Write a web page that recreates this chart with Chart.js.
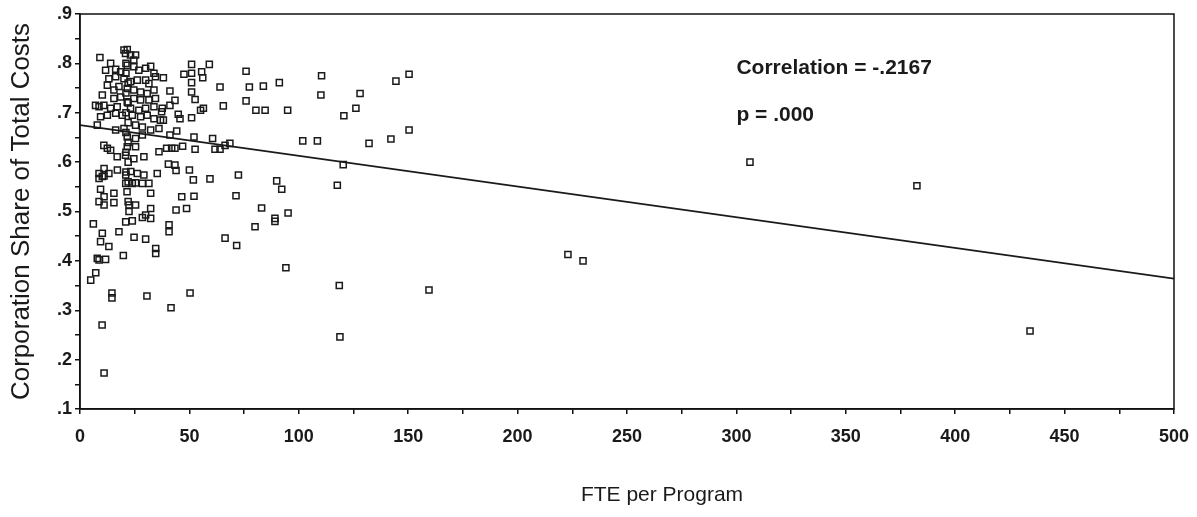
<!DOCTYPE html>
<html lang="en">
<head>
  <meta charset="UTF-8">
  <title>Corporation Share of Total Costs vs FTE per Program</title>
  <style>
    body { margin: 0; background: #fff; }
    .chart-container { width: 1197px; height: 517px; }
  </style>
  <script src="https://cdn.jsdelivr.net/npm/chart.js"></script>
</head>
<body>
  <div class="chart-container">
    <canvas id="scatterChart"></canvas>
  </div>

  <script>
    // FTE per program (x) and corporation share of total costs (y)
    const ftePerProgram = [
      9.1, 20.1, 21.6, 20.8, 23.1, 25.4, 24.6, 11.7, 14.0, 16.3, 18.6, 21.6, 24.6, 26.9, 30.0, 32.3, 33.8,
      13.2, 16.3, 20.1, 23.1, 26.2, 30.0, 31.5, 34.5, 12.5, 15.5, 17.8, 21.6, 24.6, 27.7, 30.7, 33.8,
      10.2, 15.5, 18.6, 21.6, 24.6, 27.7, 31.5, 34.5, 7.1, 8.7, 10.9, 14.0, 17.0, 23.1, 26.9, 30.0, 33.8, 37.6,
      9.4, 12.5, 16.3, 19.3, 23.9, 27.7, 30.7, 33.8, 36.8, 7.9, 16.3, 20.1, 25.4, 28.5, 32.3, 36.1,
      21.6, 25.4, 28.5, 10.9, 12.5, 14.0, 21.6, 25.4, 36.1, 17.0, 20.8, 24.6, 29.2,
      21, 21, 22, 21, 22, 21, 22, 21, 22, 21, 22, 21, 22, 21.5, 22,
      11.0, 8.7, 10.2, 13.2, 17.1, 20.9, 23.2, 26.2, 29.2, 35.3, 8.7, 11.0, 20.9, 23.9, 25.4, 28.5, 31.5,
      9.4, 15.5, 32.3, 11.0, 8.7, 11.0, 15.5, 22.4, 25.4, 22.4, 32.3, 30.0, 28.5, 32.3, 20.9, 23.9, 6.1,
      17.8, 10.2, 9.4, 13.2, 24.7, 30.0, 34.6, 34.6, 7.9, 8.7, 11.7, 19.8, 7.2, 4.9,
      14.6, 14.6, 30.6, 50.3, 41.6, 10.1, 11.0,
      51.0, 59.1, 38.1, 47.5, 51.0, 55.6, 56.1, 75.9, 64.0, 77.4, 41.1, 51.0, 52.6, 43.4, 41.1, 75.9, 65.5,
      56.4, 55.1, 44.9, 45.7, 51.0, 37.3, 38.1, 44.2, 41.1, 52.1, 60.6, 68.5, 66.3, 64.0, 61.7, 39.6, 41.9,
      43.4, 46.9, 52.6, 51.0,
      40.4, 43.4, 43.9, 50.0, 51.8, 59.4, 72.4, 46.5, 52.1, 71.3, 43.9, 48.7, 40.7, 40.7, 80.0, 66.3, 71.6,
      83.8, 91.1, 110.4, 110.1, 128.0, 126.1, 120.6, 80.4, 84.6, 94.9, 101.8, 108.5, 132.1, 120.3, 89.9, 92.2, 117.6,
      89.1, 89.1, 95.1, 83.0, 94.1, 118.5, 118.8,
      150.4, 144.4, 150.4, 142.1, 159.5, 223, 229.9, 306.2, 382.5, 434.2
    ];
    const corpShare = [
      .812, .827, .828, .820, .817, .817, .807, .786, .800, .788, .783, .796, .793, .786, .790, .794, .780,
      .769, .773, .769, .763, .766, .766, .759, .773, .756, .746, .753, .749, .746, .742, .739, .746,
      .736, .729, .732, .722, .729, .726, .726, .729, .715, .712, .715, .709, .712, .709, .705, .709, .712, .709,
      .692, .695, .699, .695, .695, .692, .695, .688, .685, .675, .665, .668, .675, .671, .665, .668,
      .651, .648, .655, .634, .628, .624, .631, .631, .621, .611, .614, .607, .611,
      .80, .78, .76, .74, .72, .70, .68, .66, .64, .62, .60, .58, .56, .54, .52,
      .587, .577, .571, .577, .584, .574, .581, .577, .574, .577, .567, .572, .557, .557, .558, .557, .557,
      .545, .537, .537, .530, .520, .513, .518, .513, .513, .500, .506, .493, .488, .486, .479, .481, .475,
      .459, .456, .439, .429, .448, .444, .425, .415, .405, .402, .403, .411, .376, .361,
      .335, .325, .329, .335, .305, .270, .173,
      .798, .798, .771, .778, .780, .783, .771, .784, .752, .752, .744, .742, .727, .725, .715, .724, .714,
      .709, .705, .697, .688, .690, .702, .685, .663, .655, .651, .648, .638, .634, .626, .626, .628, .628,
      .628, .632, .626, .761,
      .596, .594, .583, .584, .564, .566, .574, .530, .531, .532, .503, .506, .473, .459, .469, .446, .431,
      .754, .761, .775, .736, .739, .709, .694, .705, .705, .705, .643, .643, .638, .595, .562, .545, .553,
      .480, .486, .497, .507, .386, .350, .246,
      .778, .764, .665, .647, .341, .413, .400, .600, .552, .258
    ];

    // Fitted line end points
    const fitX = [0, 500];
    const fitY = [0.675, 0.364];

    const annotations = ['Correlation = -.2167', 'p = .000'];
    const xTitle = 'FTE per Program';

    const points = ftePerProgram.map((x, i) => ({ x: x, y: corpShare[i] }));
    const fitLine = fitX.map((x, i) => ({ x: x, y: fitY[i] }));

    const font = "'Liberation Sans', Arial, sans-serif";

    // Box around the plot area, the correlation text and the x title
    const framePlugin = {
      id: 'frame',
      afterDraw(chart) {
        const { ctx, chartArea, scales } = chart;
        ctx.save();
        ctx.strokeStyle = '#111';
        ctx.lineWidth = 1.5;
        ctx.strokeRect(chartArea.left, chartArea.top, chartArea.right - chartArea.left, chartArea.bottom - chartArea.top);
        ctx.fillStyle = '#1a1a1a';
        ctx.font = 'bold 21px ' + font;
        ctx.textBaseline = 'middle';
        ctx.fillText(annotations[0], scales.x.getPixelForValue(300), scales.y.getPixelForValue(0.790));
        ctx.fillText(annotations[1], scales.x.getPixelForValue(300), scales.y.getPixelForValue(0.695));
        // x axis title sits a little right of centre in the original
        ctx.font = '21px ' + font;
        ctx.textAlign = 'center';
        ctx.fillText(xTitle, scales.x.getPixelForValue(266), 495);
        ctx.restore();
      }
    };

    const ctx = document.getElementById('scatterChart').getContext('2d');
    new Chart(ctx, {
      type: 'scatter',
      data: {
        datasets: [
          {
            data: points,
            pointStyle: 'rect',
            pointRadius: 4.3,
            pointBorderWidth: 1.5,
            pointBorderColor: '#1a1a1a',
            pointBackgroundColor: 'rgba(255,255,255,0)',
            pointHoverRadius: 4.3
          },
          {
            data: fitLine,
            showLine: true,
            borderColor: '#1a1a1a',
            borderWidth: 1.6,
            pointRadius: 0,
            pointHoverRadius: 0
          }
        ]
      },
      options: {
        responsive: true,
        maintainAspectRatio: false,
        animation: false,
        layout: { padding: { top: 14, right: 23, bottom: 0, left: 0 } },
        plugins: {
          legend: { display: false },
          tooltip: { enabled: false }
        },
        scales: {
          x: {
            type: 'linear',
            min: 0,
            max: 500,
            afterFit(scale) {
              scale.height = 108;
              scale.paddingLeft = 0;
              scale.paddingRight = 0;
            },
            border: { color: '#111', width: 1.5 },
            grid: { drawOnChartArea: false, drawTicks: true, tickLength: 5, color: '#111', lineWidth: 1.5 },
            ticks: {
              stepSize: 25,
              autoSkip: false,
              maxRotation: 0,
              padding: 12,
              color: '#1a1a1a',
              font: { family: font, size: 18, weight: 'bold' },
              callback: v => (v % 50 === 0 ? String(v) : '')
            },
            title: { display: false }
          },
          y: {
            type: 'linear',
            min: 0.1,
            max: 0.9,
            afterFit(scale) { scale.width = 80; },
            border: { color: '#111', width: 1.5 },
            grid: { drawOnChartArea: false, drawTicks: true, tickLength: 5, color: '#111', lineWidth: 1.5 },
            ticks: {
              stepSize: 0.05,
              autoSkip: false,
              padding: 3,
              color: '#1a1a1a',
              font: { family: font, size: 18, weight: 'bold' },
              callback: v => {
                const n = Math.round(v * 100);
                return n % 10 === 0 ? '.' + n / 10 : '';
              }
            },
            title: {
              display: true,
              text: 'Corporation Share of Total Costs',
              color: '#1a1a1a',
              font: { family: font, size: 26 },
              padding: { top: 6, bottom: 0 }
            }
          }
        }
      },
      plugins: [framePlugin]
    });
  </script>
</body>
</html>
